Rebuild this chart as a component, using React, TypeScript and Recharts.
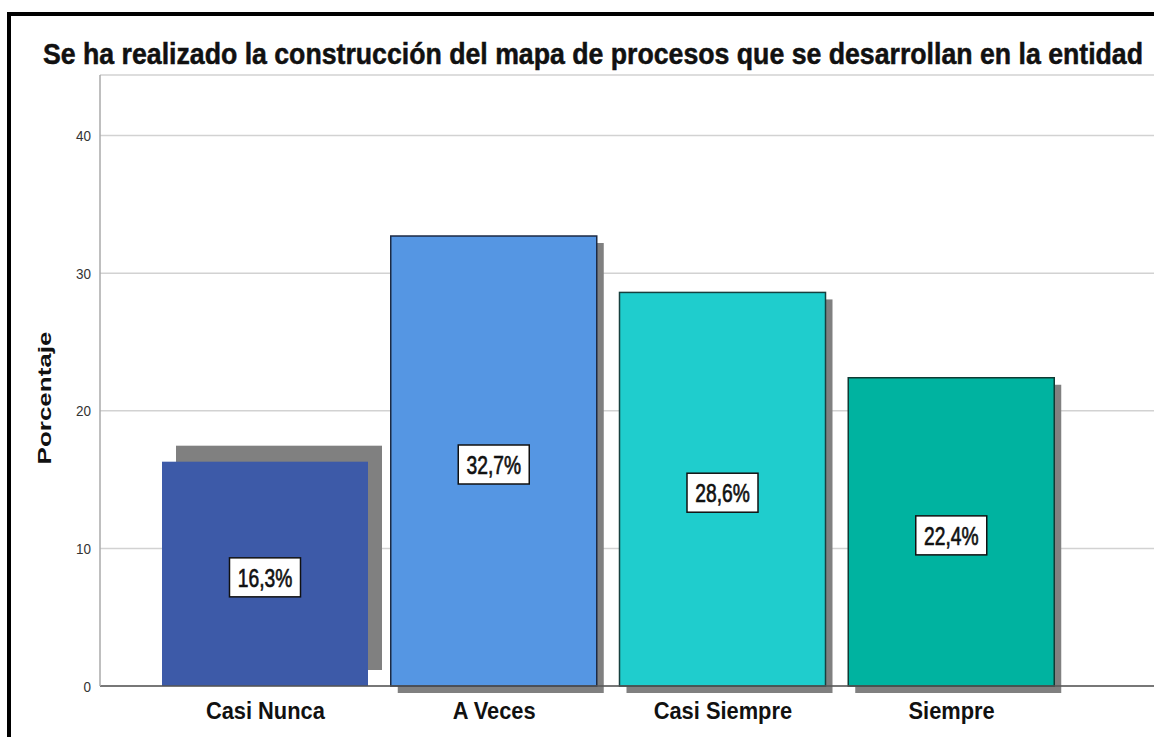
import { BarChart, Bar, XAxis, YAxis, CartesianGrid, Cell, LabelList } from 'recharts';

const categories = ['Casi Nunca', 'A Veces', 'Casi Siempre', 'Siempre'];
const percentages = [16.3, 32.7, 28.6, 22.4];
const yTicks = [0, 10, 20, 30, 40];

const TITLE = 'Se ha realizado la construcción del mapa de procesos que se desarrollan en la entidad';
const BAR_COLORS = ['#3d5aa8', '#5596e3', '#1fcdcd', '#00b3a0'];
const BAR_STROKES = ['none', '#1c2a44', '#17403f', '#0f3a33'];
// shadow offsets as drawn in the original export
const SHADOW_SHIFT: [number, number][] = [[14, -16], [7, 7], [7, 7], [7, 7]];
const FONT = '"Liberation Sans", Arial, sans-serif';
// the source image is squeezed horizontally
const SQUEEZE = 0.74;

const rows = categories.map((name, i) => ({ name, value: percentages[i] }));

function ShadowBar(props: any) {
  const { x, y, width, height, index } = props;
  const [dx, dy] = SHADOW_SHIFT[index] || [7, 7];
  return (
    <g>
      <rect x={x + dx} y={y + dy} width={width} height={height} fill="#808080" />
      <rect
        x={x} y={y} width={width} height={height}
        fill={BAR_COLORS[index]}
        stroke={BAR_STROKES[index]}
        strokeWidth={BAR_STROKES[index] === 'none' ? 0 : 1.5}
      />
    </g>
  );
}

function BoxLabel(props: any) {
  const { x, y, width, height, value } = props;
  const cx = x + width / 2;
  const cy = y + height / 2 + 3.5;
  const text = `${String(value).replace('.', ',')}%`;
  return (
    <g>
      <rect x={cx - 35.5} y={cy - 19.5} width={71} height={39} fill="#fff" stroke="#111" strokeWidth={1.5} />
      <text transform={`translate(${cx} ${cy + 9.5}) scale(${SQUEEZE} 1)`} textAnchor="middle"
        fontFamily={FONT} fontSize={26} fill="#111" stroke="#111" strokeWidth={0.7}>
        {text}
      </text>
    </g>
  );
}

function CategoryTick(props: any) {
  const { x, y, payload } = props;
  return (
    <text transform={`translate(${x} ${y + 33}) scale(0.91 1)`} textAnchor="middle"
      fontFamily={FONT} fontSize={24} fontWeight="bold" fill="#111">
      {payload.value}
    </text>
  );
}

function ValueTick(props: any) {
  const { x, y, payload } = props;
  return (
    <text transform={`translate(${x} ${y + 5.5}) scale(0.9 1)`} textAnchor="end"
      fontFamily={FONT} fontSize={15} fill="#333">
      {payload.value}
    </text>
  );
}

export default function App() {
  return (
    <div style={{ position: 'absolute', left: 0, top: 0, width: 1154, height: 737, overflow: 'hidden', background: '#fff' }}>
      <BarChart
        width={1154} height={737} data={rows}
        margin={{ top: 75, right: 0, left: 40, bottom: 11 }}
        barSize={206}
      >
        <CartesianGrid vertical={false} stroke="#d2d2d2" strokeWidth={1.5} />
        <XAxis
          dataKey="name" height={40} padding={{ left: 51, right: 88 }}
          axisLine={{ stroke: '#555', strokeWidth: 1.5 }} tickLine={false}
          tickSize={0} tickMargin={0} tick={<CategoryTick />} interval={0}
        />
        <YAxis
          width={60} domain={[0, 44.4]} ticks={yTicks}
          axisLine={{ stroke: '#aaa', strokeWidth: 1.5 }} tickLine={false}
          tickSize={6} tickMargin={3} tick={<ValueTick />}
        />
        <Bar dataKey="value" shape={<ShadowBar />} isAnimationActive={false}>
          {rows.map((r, i) => <Cell key={r.name} fill={BAR_COLORS[i]} />)}
          <LabelList dataKey="value" content={<BoxLabel />} />
        </Bar>
      </BarChart>
      <svg width={1154} height={737} style={{ position: 'absolute', left: 0, top: 0, pointerEvents: 'none' }}>
        <line x1={9} y1={12} x2={9} y2={737} stroke="#000" strokeWidth={4} />
        <line x1={7} y1={14} x2={1154} y2={14} stroke="#000" strokeWidth={4} />
        <text transform="translate(43 64) scale(0.8 1)" fontFamily={FONT} fontSize={29} fontWeight="bold" fill="#111"
          stroke="#111" strokeWidth={0.5} textLength={1375} lengthAdjust="spacingAndGlyphs">
          {TITLE}
        </text>
        <text x={0} y={0} fontFamily={FONT} fontSize={26} fontWeight="bold" fill="#111"
          textAnchor="middle" transform={`translate(51 398) rotate(-90) scale(1 ${SQUEEZE})`}>
          Porcentaje
        </text>
      </svg>
    </div>
  );
}
